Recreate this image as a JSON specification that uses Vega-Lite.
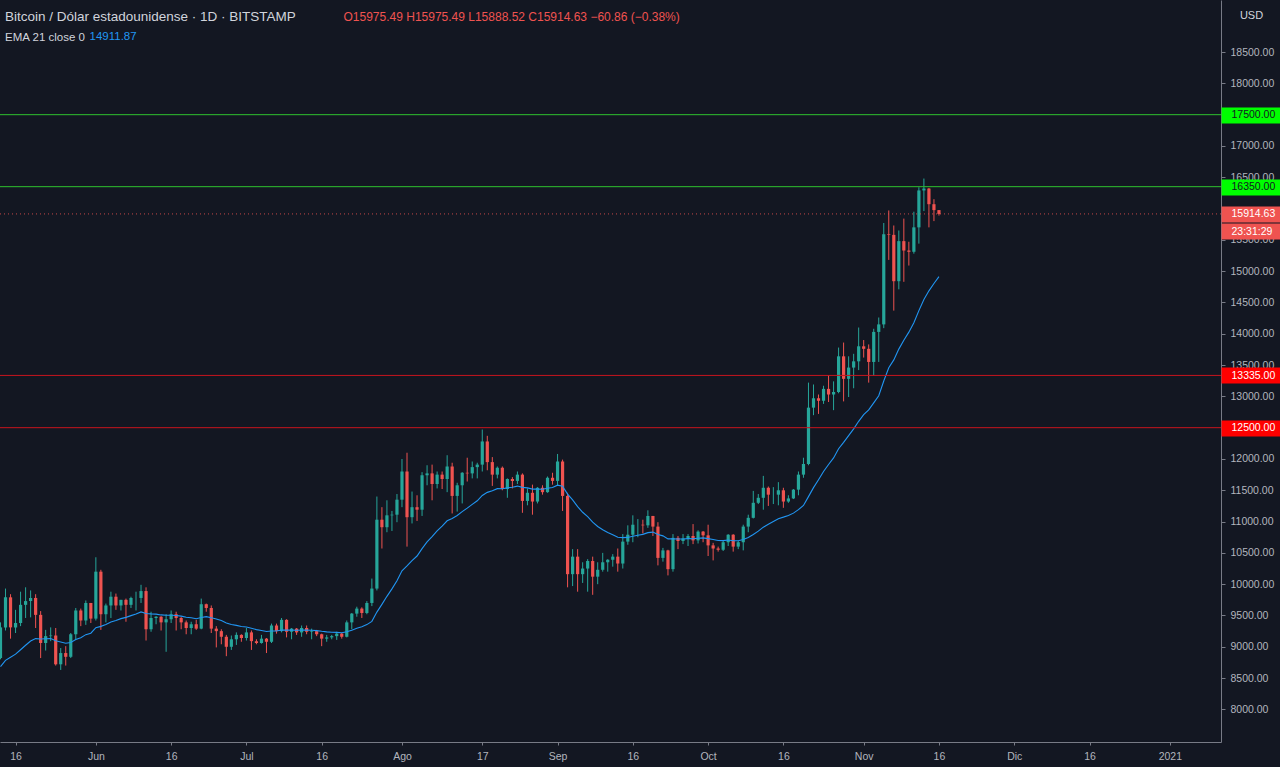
{
  "$schema": "https://vega.github.io/schema/vega-lite/v6.json",
  "width": 1221,
  "height": 742,
  "autosize": "none",
  "padding": {"left": 0, "top": 0, "right": 59, "bottom": 25},
  "title": {
    "text": "Bitcoin / Dólar estadounidense · 1D · BITSTAMP",
    "subtitle": "EMA 21 close 0",
    "anchor": "start",
    "frame": "group",
    "offset": -43,
    "dx": 5,
    "color": "#d1d4dc",
    "subtitleColor": "#d1d4dc",
    "fontSize": 13.5,
    "fontWeight": "normal",
    "subtitleFontSize": 11.5,
    "subtitlePadding": 8,
    "font": "Liberation Sans",
    "subtitleFont": "Liberation Sans"
  },
  "datasets": {
    "velas": [
      {"date": "2020-05-13", "open": 8820, "high": 9390, "low": 8800, "close": 9310, "ema": 8683},
      {"date": "2020-05-14", "open": 9310, "high": 9930, "low": 9260, "close": 9790, "ema": 8784},
      {"date": "2020-05-15", "open": 9790, "high": 9840, "low": 9130, "close": 9310, "ema": 8832},
      {"date": "2020-05-16", "open": 9310, "high": 9590, "low": 9220, "close": 9380, "ema": 8882},
      {"date": "2020-05-17", "open": 9380, "high": 9880, "low": 9330, "close": 9670, "ema": 8953},
      {"date": "2020-05-18", "open": 9670, "high": 9950, "low": 9460, "close": 9730, "ema": 9024},
      {"date": "2020-05-19", "open": 9730, "high": 9900, "low": 9470, "close": 9780, "ema": 9093},
      {"date": "2020-05-20", "open": 9780, "high": 9840, "low": 9300, "close": 9510, "ema": 9131},
      {"date": "2020-05-21", "open": 9510, "high": 9570, "low": 8820, "close": 9060, "ema": 9124},
      {"date": "2020-05-22", "open": 9060, "high": 9270, "low": 8940, "close": 9170, "ema": 9128},
      {"date": "2020-05-23", "open": 9170, "high": 9310, "low": 9090, "close": 9180, "ema": 9133},
      {"date": "2020-05-24", "open": 9180, "high": 9300, "low": 8700, "close": 8720, "ema": 9095},
      {"date": "2020-05-25", "open": 8720, "high": 8980, "low": 8630, "close": 8900, "ema": 9077},
      {"date": "2020-05-26", "open": 8900, "high": 9010, "low": 8700, "close": 8840, "ema": 9056},
      {"date": "2020-05-27", "open": 8840, "high": 9220, "low": 8820, "close": 9200, "ema": 9069},
      {"date": "2020-05-28", "open": 9200, "high": 9620, "low": 9110, "close": 9580, "ema": 9115},
      {"date": "2020-05-29", "open": 9580, "high": 9610, "low": 9330, "close": 9420, "ema": 9143},
      {"date": "2020-05-30", "open": 9420, "high": 9740, "low": 9350, "close": 9700, "ema": 9194},
      {"date": "2020-05-31", "open": 9700, "high": 9700, "low": 9380, "close": 9450, "ema": 9217},
      {"date": "2020-06-01", "open": 9450, "high": 10430, "low": 9420, "close": 10200, "ema": 9306},
      {"date": "2020-06-02", "open": 10200, "high": 10230, "low": 9270, "close": 9520, "ema": 9326},
      {"date": "2020-06-03", "open": 9520, "high": 9690, "low": 9390, "close": 9660, "ema": 9356},
      {"date": "2020-06-04", "open": 9660, "high": 9880, "low": 9460, "close": 9800, "ema": 9396},
      {"date": "2020-06-05", "open": 9800, "high": 9850, "low": 9590, "close": 9660, "ema": 9420},
      {"date": "2020-06-06", "open": 9660, "high": 9750, "low": 9580, "close": 9750, "ema": 9450},
      {"date": "2020-06-07", "open": 9750, "high": 9770, "low": 9400, "close": 9670, "ema": 9470},
      {"date": "2020-06-08", "open": 9670, "high": 9800, "low": 9620, "close": 9780, "ema": 9498},
      {"date": "2020-06-09", "open": 9780, "high": 9880, "low": 9580, "close": 9780, "ema": 9524},
      {"date": "2020-06-10", "open": 9780, "high": 9990, "low": 9700, "close": 9890, "ema": 9557},
      {"date": "2020-06-11", "open": 9890, "high": 9950, "low": 9100, "close": 9280, "ema": 9532},
      {"date": "2020-06-12", "open": 9280, "high": 9560, "low": 9240, "close": 9460, "ema": 9525},
      {"date": "2020-06-13", "open": 9460, "high": 9490, "low": 9360, "close": 9480, "ema": 9521},
      {"date": "2020-06-14", "open": 9480, "high": 9490, "low": 9260, "close": 9390, "ema": 9509},
      {"date": "2020-06-15", "open": 9390, "high": 9520, "low": 8920, "close": 9440, "ema": 9503},
      {"date": "2020-06-16", "open": 9440, "high": 9580, "low": 9380, "close": 9520, "ema": 9504},
      {"date": "2020-06-17", "open": 9520, "high": 9560, "low": 9260, "close": 9460, "ema": 9500},
      {"date": "2020-06-18", "open": 9460, "high": 9480, "low": 9280, "close": 9390, "ema": 9490},
      {"date": "2020-06-19", "open": 9390, "high": 9420, "low": 9200, "close": 9300, "ema": 9473},
      {"date": "2020-06-20", "open": 9300, "high": 9400, "low": 9200, "close": 9360, "ema": 9463},
      {"date": "2020-06-21", "open": 9360, "high": 9430, "low": 9270, "close": 9290, "ema": 9447},
      {"date": "2020-06-22", "open": 9290, "high": 9770, "low": 9280, "close": 9680, "ema": 9468},
      {"date": "2020-06-23", "open": 9680, "high": 9690, "low": 9560, "close": 9620, "ema": 9482},
      {"date": "2020-06-24", "open": 9620, "high": 9660, "low": 9220, "close": 9290, "ema": 9465},
      {"date": "2020-06-25", "open": 9290, "high": 9330, "low": 8990, "close": 9250, "ema": 9445},
      {"date": "2020-06-26", "open": 9250, "high": 9280, "low": 9040, "close": 9160, "ema": 9419},
      {"date": "2020-06-27", "open": 9160, "high": 9190, "low": 8850, "close": 9000, "ema": 9381},
      {"date": "2020-06-28", "open": 9000, "high": 9180, "low": 8950, "close": 9120, "ema": 9357},
      {"date": "2020-06-29", "open": 9120, "high": 9230, "low": 9030, "close": 9190, "ema": 9342},
      {"date": "2020-06-30", "open": 9190, "high": 9200, "low": 9080, "close": 9140, "ema": 9324},
      {"date": "2020-07-01", "open": 9140, "high": 9300, "low": 9100, "close": 9230, "ema": 9315},
      {"date": "2020-07-02", "open": 9230, "high": 9260, "low": 8950, "close": 9090, "ema": 9295},
      {"date": "2020-07-03", "open": 9090, "high": 9120, "low": 9040, "close": 9060, "ema": 9274},
      {"date": "2020-07-04", "open": 9060, "high": 9190, "low": 9050, "close": 9130, "ema": 9261},
      {"date": "2020-07-05", "open": 9130, "high": 9140, "low": 8900, "close": 9080, "ema": 9244},
      {"date": "2020-07-06", "open": 9080, "high": 9370, "low": 9060, "close": 9340, "ema": 9253},
      {"date": "2020-07-07", "open": 9340, "high": 9370, "low": 9210, "close": 9250, "ema": 9253},
      {"date": "2020-07-08", "open": 9250, "high": 9460, "low": 9230, "close": 9430, "ema": 9269},
      {"date": "2020-07-09", "open": 9430, "high": 9440, "low": 9150, "close": 9240, "ema": 9266},
      {"date": "2020-07-10", "open": 9240, "high": 9300, "low": 9120, "close": 9290, "ema": 9268},
      {"date": "2020-07-11", "open": 9290, "high": 9300, "low": 9190, "close": 9230, "ema": 9265},
      {"date": "2020-07-12", "open": 9230, "high": 9340, "low": 9160, "close": 9300, "ema": 9268},
      {"date": "2020-07-13", "open": 9300, "high": 9340, "low": 9200, "close": 9240, "ema": 9266},
      {"date": "2020-07-14", "open": 9240, "high": 9290, "low": 9120, "close": 9250, "ema": 9264},
      {"date": "2020-07-15", "open": 9250, "high": 9270, "low": 9170, "close": 9200, "ema": 9258},
      {"date": "2020-07-16", "open": 9200, "high": 9210, "low": 9010, "close": 9130, "ema": 9247},
      {"date": "2020-07-17", "open": 9130, "high": 9190, "low": 9080, "close": 9150, "ema": 9238},
      {"date": "2020-07-18", "open": 9150, "high": 9190, "low": 9120, "close": 9170, "ema": 9232},
      {"date": "2020-07-19", "open": 9170, "high": 9240, "low": 9110, "close": 9210, "ema": 9230},
      {"date": "2020-07-20", "open": 9210, "high": 9220, "low": 9130, "close": 9160, "ema": 9224},
      {"date": "2020-07-21", "open": 9160, "high": 9420, "low": 9150, "close": 9390, "ema": 9239},
      {"date": "2020-07-22", "open": 9390, "high": 9540, "low": 9280, "close": 9530, "ema": 9265},
      {"date": "2020-07-23", "open": 9530, "high": 9640, "low": 9480, "close": 9610, "ema": 9297},
      {"date": "2020-07-24", "open": 9610, "high": 9630, "low": 9460, "close": 9540, "ema": 9319},
      {"date": "2020-07-25", "open": 9540, "high": 9730, "low": 9520, "close": 9700, "ema": 9354},
      {"date": "2020-07-26", "open": 9700, "high": 10090, "low": 9650, "close": 9930, "ema": 9406},
      {"date": "2020-07-27", "open": 9930, "high": 11400, "low": 9900, "close": 11030, "ema": 9554},
      {"date": "2020-07-28", "open": 11030, "high": 11230, "low": 10570, "close": 10910, "ema": 9677},
      {"date": "2020-07-29", "open": 10910, "high": 11340, "low": 10830, "close": 11100, "ema": 9806},
      {"date": "2020-07-30", "open": 11100, "high": 11170, "low": 10850, "close": 11110, "ema": 9925},
      {"date": "2020-07-31", "open": 11110, "high": 11440, "low": 10990, "close": 11350, "ema": 10054},
      {"date": "2020-08-01", "open": 11350, "high": 12000, "low": 11230, "close": 11800, "ema": 10213},
      {"date": "2020-08-02", "open": 11800, "high": 12100, "low": 10600, "close": 11070, "ema": 10291},
      {"date": "2020-08-03", "open": 11070, "high": 11480, "low": 10970, "close": 11230, "ema": 10376},
      {"date": "2020-08-04", "open": 11230, "high": 11420, "low": 11010, "close": 11190, "ema": 10450},
      {"date": "2020-08-05", "open": 11190, "high": 11790, "low": 11090, "close": 11740, "ema": 10567},
      {"date": "2020-08-06", "open": 11740, "high": 11900, "low": 11580, "close": 11770, "ema": 10677},
      {"date": "2020-08-07", "open": 11770, "high": 11910, "low": 11340, "close": 11600, "ema": 10761},
      {"date": "2020-08-08", "open": 11600, "high": 11800, "low": 11530, "close": 11750, "ema": 10851},
      {"date": "2020-08-09", "open": 11750, "high": 11800, "low": 11520, "close": 11680, "ema": 10926},
      {"date": "2020-08-10", "open": 11680, "high": 12060, "low": 11470, "close": 11880, "ema": 11013},
      {"date": "2020-08-11", "open": 11880, "high": 11940, "low": 11130, "close": 11410, "ema": 11049},
      {"date": "2020-08-12", "open": 11410, "high": 11620, "low": 11160, "close": 11580, "ema": 11097},
      {"date": "2020-08-13", "open": 11580, "high": 11790, "low": 11290, "close": 11780, "ema": 11159},
      {"date": "2020-08-14", "open": 11780, "high": 12020, "low": 11640, "close": 11770, "ema": 11215},
      {"date": "2020-08-15", "open": 11770, "high": 11960, "low": 11690, "close": 11870, "ema": 11274},
      {"date": "2020-08-16", "open": 11870, "high": 11940, "low": 11690, "close": 11910, "ema": 11332},
      {"date": "2020-08-17", "open": 11910, "high": 12470, "low": 11800, "close": 12280, "ema": 11418},
      {"date": "2020-08-18", "open": 12280, "high": 12370, "low": 11820, "close": 11950, "ema": 11467},
      {"date": "2020-08-19", "open": 11950, "high": 12030, "low": 11570, "close": 11750, "ema": 11492},
      {"date": "2020-08-20", "open": 11750, "high": 11880, "low": 11690, "close": 11860, "ema": 11526},
      {"date": "2020-08-21", "open": 11860, "high": 11880, "low": 11500, "close": 11520, "ema": 11525},
      {"date": "2020-08-22", "open": 11520, "high": 11690, "low": 11380, "close": 11680, "ema": 11539},
      {"date": "2020-08-23", "open": 11680, "high": 11710, "low": 11530, "close": 11650, "ema": 11549},
      {"date": "2020-08-24", "open": 11650, "high": 11800, "low": 11600, "close": 11750, "ema": 11567},
      {"date": "2020-08-25", "open": 11750, "high": 11770, "low": 11140, "close": 11330, "ema": 11546},
      {"date": "2020-08-26", "open": 11330, "high": 11530, "low": 11260, "close": 11460, "ema": 11538},
      {"date": "2020-08-27", "open": 11460, "high": 11590, "low": 11110, "close": 11320, "ema": 11518},
      {"date": "2020-08-28", "open": 11320, "high": 11550, "low": 11290, "close": 11540, "ema": 11520},
      {"date": "2020-08-29", "open": 11540, "high": 11580, "low": 11430, "close": 11470, "ema": 11516},
      {"date": "2020-08-30", "open": 11470, "high": 11720, "low": 11460, "close": 11700, "ema": 11533},
      {"date": "2020-08-31", "open": 11700, "high": 11780, "low": 11590, "close": 11650, "ema": 11544},
      {"date": "2020-09-01", "open": 11650, "high": 12080, "low": 11570, "close": 11960, "ema": 11582},
      {"date": "2020-09-02", "open": 11960, "high": 11990, "low": 11170, "close": 11410, "ema": 11566},
      {"date": "2020-09-03", "open": 11410, "high": 11460, "low": 9950, "close": 10160, "ema": 11438},
      {"date": "2020-09-04", "open": 10160, "high": 10560, "low": 9970, "close": 10440, "ema": 11347},
      {"date": "2020-09-05", "open": 10440, "high": 10560, "low": 9880, "close": 10160, "ema": 11239},
      {"date": "2020-09-06", "open": 10160, "high": 10350, "low": 10020, "close": 10250, "ema": 11149},
      {"date": "2020-09-07", "open": 10250, "high": 10400, "low": 9880, "close": 10370, "ema": 11078},
      {"date": "2020-09-08", "open": 10370, "high": 10440, "low": 9830, "close": 10120, "ema": 10991},
      {"date": "2020-09-09", "open": 10120, "high": 10350, "low": 10000, "close": 10230, "ema": 10922},
      {"date": "2020-09-10", "open": 10230, "high": 10500, "low": 10200, "close": 10350, "ema": 10870},
      {"date": "2020-09-11", "open": 10350, "high": 10400, "low": 10200, "close": 10390, "ema": 10826},
      {"date": "2020-09-12", "open": 10390, "high": 10480, "low": 10280, "close": 10440, "ema": 10791},
      {"date": "2020-09-13", "open": 10440, "high": 10570, "low": 10200, "close": 10330, "ema": 10749},
      {"date": "2020-09-14", "open": 10330, "high": 10800, "low": 10250, "close": 10680, "ema": 10743},
      {"date": "2020-09-15", "open": 10680, "high": 10940, "low": 10630, "close": 10790, "ema": 10747},
      {"date": "2020-09-16", "open": 10790, "high": 11100, "low": 10670, "close": 10950, "ema": 10765},
      {"date": "2020-09-17", "open": 10950, "high": 11040, "low": 10750, "close": 10950, "ema": 10782},
      {"date": "2020-09-18", "open": 10950, "high": 11030, "low": 10810, "close": 10940, "ema": 10796},
      {"date": "2020-09-19", "open": 10940, "high": 11180, "low": 10900, "close": 11090, "ema": 10823},
      {"date": "2020-09-20", "open": 11090, "high": 11090, "low": 10770, "close": 10920, "ema": 10832},
      {"date": "2020-09-21", "open": 10920, "high": 10990, "low": 10300, "close": 10420, "ema": 10795},
      {"date": "2020-09-22", "open": 10420, "high": 10580, "low": 10360, "close": 10540, "ema": 10772},
      {"date": "2020-09-23", "open": 10540, "high": 10550, "low": 10140, "close": 10240, "ema": 10724},
      {"date": "2020-09-24", "open": 10240, "high": 10800, "low": 10200, "close": 10740, "ema": 10725},
      {"date": "2020-09-25", "open": 10740, "high": 10770, "low": 10560, "close": 10690, "ema": 10722},
      {"date": "2020-09-26", "open": 10690, "high": 10800, "low": 10640, "close": 10730, "ema": 10723},
      {"date": "2020-09-27", "open": 10730, "high": 10800, "low": 10610, "close": 10770, "ema": 10727},
      {"date": "2020-09-28", "open": 10770, "high": 10960, "low": 10640, "close": 10700, "ema": 10725},
      {"date": "2020-09-29", "open": 10700, "high": 10860, "low": 10650, "close": 10840, "ema": 10735},
      {"date": "2020-09-30", "open": 10840, "high": 10850, "low": 10670, "close": 10780, "ema": 10739},
      {"date": "2020-10-01", "open": 10780, "high": 10950, "low": 10450, "close": 10620, "ema": 10728},
      {"date": "2020-10-02", "open": 10620, "high": 10660, "low": 10380, "close": 10570, "ema": 10714},
      {"date": "2020-10-03", "open": 10570, "high": 10600, "low": 10520, "close": 10550, "ema": 10699},
      {"date": "2020-10-04", "open": 10550, "high": 10700, "low": 10530, "close": 10670, "ema": 10696},
      {"date": "2020-10-05", "open": 10670, "high": 10800, "low": 10610, "close": 10790, "ema": 10705},
      {"date": "2020-10-06", "open": 10790, "high": 10800, "low": 10520, "close": 10600, "ema": 10695},
      {"date": "2020-10-07", "open": 10600, "high": 10690, "low": 10560, "close": 10670, "ema": 10693},
      {"date": "2020-10-08", "open": 10670, "high": 10950, "low": 10540, "close": 10920, "ema": 10714},
      {"date": "2020-10-09", "open": 10920, "high": 11110, "low": 10830, "close": 11060, "ema": 10745},
      {"date": "2020-10-10", "open": 11060, "high": 11490, "low": 11050, "close": 11300, "ema": 10795},
      {"date": "2020-10-11", "open": 11300, "high": 11440, "low": 11280, "close": 11380, "ema": 10848},
      {"date": "2020-10-12", "open": 11380, "high": 11730, "low": 11190, "close": 11540, "ema": 10911},
      {"date": "2020-10-13", "open": 11540, "high": 11560, "low": 11250, "close": 11430, "ema": 10958},
      {"date": "2020-10-14", "open": 11430, "high": 11550, "low": 11280, "close": 11430, "ema": 11001},
      {"date": "2020-10-15", "open": 11430, "high": 11630, "low": 11260, "close": 11500, "ema": 11046},
      {"date": "2020-10-16", "open": 11500, "high": 11540, "low": 11220, "close": 11320, "ema": 11071},
      {"date": "2020-10-17", "open": 11320, "high": 11420, "low": 11300, "close": 11370, "ema": 11098},
      {"date": "2020-10-18", "open": 11370, "high": 11520, "low": 11360, "close": 11510, "ema": 11135},
      {"date": "2020-10-19", "open": 11510, "high": 11800, "low": 11420, "close": 11750, "ema": 11191},
      {"date": "2020-10-20", "open": 11750, "high": 12020, "low": 11700, "close": 11920, "ema": 11257},
      {"date": "2020-10-21", "open": 11920, "high": 13220, "low": 11900, "close": 12820, "ema": 11399},
      {"date": "2020-10-22", "open": 12820, "high": 13190, "low": 12700, "close": 12970, "ema": 11542},
      {"date": "2020-10-23", "open": 12970, "high": 13030, "low": 12720, "close": 12930, "ema": 11668},
      {"date": "2020-10-24", "open": 12930, "high": 13170, "low": 12880, "close": 13120, "ema": 11800},
      {"date": "2020-10-25", "open": 13120, "high": 13340, "low": 12910, "close": 13030, "ema": 11912},
      {"date": "2020-10-26", "open": 13030, "high": 13240, "low": 12780, "close": 13070, "ema": 12017},
      {"date": "2020-10-27", "open": 13070, "high": 13780, "low": 13050, "close": 13640, "ema": 12164},
      {"date": "2020-10-28", "open": 13640, "high": 13860, "low": 12920, "close": 13280, "ema": 12265},
      {"date": "2020-10-29", "open": 13280, "high": 13640, "low": 12990, "close": 13460, "ema": 12374},
      {"date": "2020-10-30", "open": 13460, "high": 13680, "low": 13130, "close": 13560, "ema": 12482},
      {"date": "2020-10-31", "open": 13560, "high": 14100, "low": 13420, "close": 13800, "ema": 12602},
      {"date": "2020-11-01", "open": 13800, "high": 13900, "low": 13620, "close": 13760, "ema": 12707},
      {"date": "2020-11-02", "open": 13760, "high": 13830, "low": 13220, "close": 13550, "ema": 12784},
      {"date": "2020-11-03", "open": 13550, "high": 14080, "low": 13330, "close": 14030, "ema": 12897},
      {"date": "2020-11-04", "open": 14030, "high": 14260, "low": 13550, "close": 14150, "ema": 13011},
      {"date": "2020-11-05", "open": 14150, "high": 15770, "low": 14090, "close": 15590, "ema": 13245},
      {"date": "2020-11-06", "open": 15590, "high": 15970, "low": 15180, "close": 15580, "ema": 13457},
      {"date": "2020-11-07", "open": 15580, "high": 15730, "low": 14370, "close": 14840, "ema": 13583},
      {"date": "2020-11-08", "open": 14840, "high": 15650, "low": 14710, "close": 15480, "ema": 13755},
      {"date": "2020-11-09", "open": 15480, "high": 15840, "low": 14830, "close": 15330, "ema": 13898},
      {"date": "2020-11-10", "open": 15330, "high": 15470, "low": 15090, "close": 15310, "ema": 14026},
      {"date": "2020-11-11", "open": 15310, "high": 15950, "low": 15280, "close": 15700, "ema": 14178},
      {"date": "2020-11-12", "open": 15700, "high": 16340, "low": 15440, "close": 16290, "ema": 14370},
      {"date": "2020-11-13", "open": 16290, "high": 16480, "low": 15960, "close": 16320, "ema": 14547},
      {"date": "2020-11-14", "open": 16320, "high": 16330, "low": 15700, "close": 16070, "ema": 14686},
      {"date": "2020-11-15", "open": 16070, "high": 16150, "low": 15800, "close": 15975.49, "ema": 14803},
      {"date": "2020-11-16", "open": 15975.49, "high": 15975.49, "low": 15888.52, "close": 15914.63, "ema": 14911.87}
    ],
    "niveles": [
      {"price": 17500, "tipo": "resistencia"},
      {"price": 16350, "tipo": "resistencia"},
      {"price": 13335, "tipo": "soporte"},
      {"price": 12500, "tipo": "soporte"},
      {"price": 15914.63, "tipo": "actual"}
    ]
  },
  "layer": [
    {
      "data": {"name": "velas"},
      "layer": [
        {
          "mark": {"type": "rule", "strokeWidth": 1},
          "encoding": {
            "x": {
              "field": "date",
              "type": "temporal",
              "scale": {
                "type": "utc",
                "nice": false,
                "padding": 0,
                "domain": [
                  {"year": 2020, "month": 5, "date": 12, "hours": 21, "minutes": 36, "utc": true},
                  {"year": 2021, "month": 1, "date": 11, "hours": 4, "minutes": 48, "utc": true}
                ]
              },
              "axis": {
                "values": [
                  {"year": 2020, "month": 5, "date": 16, "utc": true},
                  {"year": 2020, "month": 6, "date": 1, "utc": true},
                  {"year": 2020, "month": 6, "date": 16, "utc": true},
                  {"year": 2020, "month": 7, "date": 1, "utc": true},
                  {"year": 2020, "month": 7, "date": 16, "utc": true},
                  {"year": 2020, "month": 8, "date": 1, "utc": true},
                  {"year": 2020, "month": 8, "date": 17, "utc": true},
                  {"year": 2020, "month": 9, "date": 1, "utc": true},
                  {"year": 2020, "month": 9, "date": 16, "utc": true},
                  {"year": 2020, "month": 10, "date": 1, "utc": true},
                  {"year": 2020, "month": 10, "date": 16, "utc": true},
                  {"year": 2020, "month": 11, "date": 1, "utc": true},
                  {"year": 2020, "month": 11, "date": 16, "utc": true},
                  {"year": 2020, "month": 12, "date": 1, "utc": true},
                  {"year": 2020, "month": 12, "date": 16, "utc": true},
                  {"year": 2021, "month": 1, "date": 1, "utc": true}
                ],
                "labelExpr": "utcdate(datum.value) == 1 ? (utcmonth(datum.value) == 0 ? utcFormat(datum.value, '%Y') : ['Ene','Feb','Mar','Abr','May','Jun','Jul','Ago','Sep','Oct','Nov','Dic'][utcmonth(datum.value)]) : utcFormat(datum.value, '%d')",
                "labelFlush": false,
                "labelOverlap": false,
                "tickSize": 3,
                "labelPadding": 6,
                "title": "O15975.49 H15975.49 L15888.52 C15914.63 −60.86 (−0.38%)",
                "titleColor": "#ef5350",
                "titleFontSize": 12,
                "titleFontWeight": "normal",
                "titleAlign": "left",
                "titleBaseline": "middle",
                "titleAnchor": "start",
                "titleX": 343,
                "titleY": -726
              }
            },
            "y": {
              "field": "low",
              "type": "quantitative",
              "scale": {"domain": [7479, 19332], "nice": false, "zero": false},
              "axis": {
                "orient": "right",
                "values": [8000, 9000, 10000, 11000, 12000, 13000, 14000, 15000, 17000, 18000],
                "format": ".2f",
                "tickSize": 4,
                "labelPadding": 5,
                "labelBaseline": "middle",
                "labelOverlap": false,
                "labelFlush": false,
                "title": "USD",
                "titleAngle": 0,
                "titleX": 30,
                "titleY": 15,
                "titleAlign": "center",
                "titleBaseline": "middle",
                "titleColor": "#d1d4dc",
                "titleFontSize": 11,
                "titleFontWeight": "normal"
              }
            },
            "y2": {"field": "high"},
            "color": {
              "condition": {"test": "datum.close >= datum.open", "value": "#26a69a"},
              "value": "#ef5350"
            }
          }
        },
        {
          "mark": {"type": "bar", "width": 3.2},
          "encoding": {
            "x": {"field": "date", "type": "temporal"},
            "y": {"field": "open", "type": "quantitative"},
            "y2": {"field": "close"},
            "color": {
              "condition": {"test": "datum.close >= datum.open", "value": "#26a69a"},
              "value": "#ef5350"
            }
          }
        }
      ]
    },
    {
      "data": {"name": "velas"},
      "mark": {"type": "line", "color": "#2196f3", "strokeWidth": 1.1},
      "encoding": {
        "x": {"field": "date", "type": "temporal"},
        "y": {
          "field": "ema",
          "type": "quantitative",
          "scale": {"domain": [7479, 19332], "nice": false, "zero": false},
          "axis": {
            "orient": "right",
            "values": [8500, 9500, 10500, 11500, 12500, 13500, 14500, 15500, 16500, 18500],
            "format": ".2f",
            "tickSize": 4,
            "labelPadding": 5,
            "labelBaseline": "middle",
            "labelOverlap": false,
            "labelFlush": false,
            "domain": false,
            "title": null
          }
        }
      }
    },
    {
      "data": {"name": "niveles"},
      "layer": [
        {
          "transform": [{"filter": "datum.tipo != 'actual'"}],
          "mark": {"type": "rule", "strokeWidth": 1},
          "encoding": {
            "y": {
              "field": "price",
              "type": "quantitative",
              "scale": {"domain": [7479, 19332], "nice": false, "zero": false},
              "axis": {
                "orient": "right",
                "values": [17500, 16350, 15914.63, 15640, 13335, 12500],
                "labelExpr": "datum.value == 15640 ? '23:31:29' : format(datum.value, '.2f')",
                "tickSize": 59,
                "tickWidth": 16,
                "tickColor": {
                  "condition": [
                    {"test": "datum.value > 16000", "value": "#00ff00"},
                    {"test": "datum.value > 14000", "value": "#ef5350"}
                  ],
                  "value": "#ff0000"
                },
                "labelColor": {
                  "condition": {"test": "datum.value > 16000", "value": "#131722"},
                  "value": "#ffffff"
                },
                "labelPadding": -49,
                "labelBaseline": "middle",
                "labelOverlap": false,
                "labelFlush": false,
                "domain": false,
                "title": "14911.87",
                "titleAngle": 0,
                "titleX": -1132,
                "titleY": 36,
                "titleAlign": "left",
                "titleBaseline": "middle",
                "titleColor": "#2196f3",
                "titleFontSize": 11.5,
                "titleFontWeight": "normal"
              }
            },
            "color": {
              "condition": {"test": "datum.tipo == 'resistencia'", "value": "#2fc02f"},
              "value": "#c8141e"
            }
          }
        },
        {
          "transform": [{"filter": "datum.tipo == 'actual'"}],
          "mark": {"type": "rule", "strokeWidth": 1, "strokeDash": [1, 3], "color": "#ef5350", "opacity": 0.8},
          "encoding": {
            "y": {"field": "price", "type": "quantitative"}
          }
        }
      ]
    }
  ],
  "resolve": {"scale": {"y": "independent"}, "axis": {"y": "independent"}},
  "config": {
    "background": "#131722",
    "view": {"stroke": null},
    "font": "Liberation Sans",
    "axis": {
      "grid": false,
      "labelOverlap": false,
      "domainColor": "#787b86",
      "tickColor": "#787b86",
      "labelColor": "#b2b5be",
      "labelFontSize": 10.5,
      "labelFont": "Liberation Sans",
      "titleFont": "Liberation Sans"
    }
  }
}
